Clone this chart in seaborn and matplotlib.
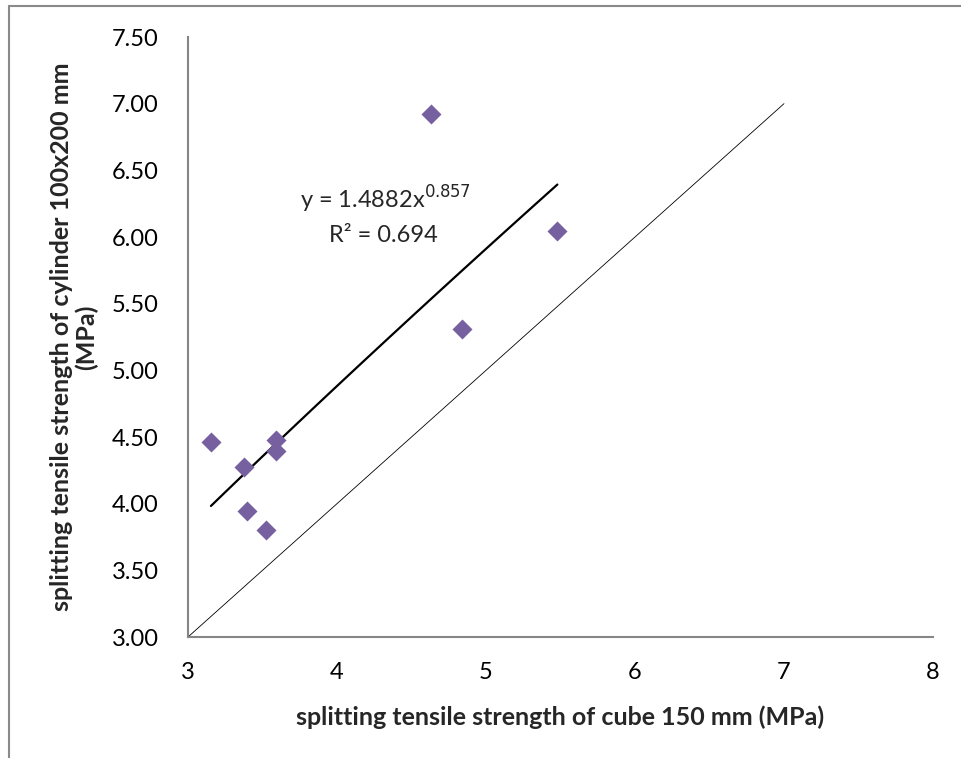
import numpy as np
import pandas as pd
import matplotlib
matplotlib.use("Agg")
import matplotlib.pyplot as plt
from matplotlib.lines import Line2D
from matplotlib.transforms import IdentityTransform
import seaborn as sns

# Measured splitting tensile strengths (MPa)
cube_150 = [3.154, 3.591, 3.591, 3.376, 3.396, 3.523, 4.629, 5.479, 4.839]
cylinder_100x200 = [4.465, 4.478, 4.397, 4.277, 3.945, 3.803, 6.920, 6.047, 5.308]

# Power-law fit y = a * x^b
fit_a = 1.4882
fit_b = 0.857
fit_r2 = 0.694

# Line of equality
equality_x = [3, 7]
equality_y = [3, 7]

x_ticks = [3, 4, 5, 6, 7, 8]
y_ticks = [3.00, 3.50, 4.00, 4.50, 5.00, 5.50, 6.00, 6.50, 7.00, 7.50]

sns.set_theme(style="white")
plt.rcParams["font.family"] = ["Lato", "DejaVu Sans"]

W, H = 962, 758
fig = plt.figure(figsize=(W / 100, H / 100), dpi=100)
ax = fig.add_axes([188 / W, 1 - 637 / H, (933 - 188) / W, (637 - 37) / H])

df = pd.DataFrame({"cube": cube_150, "cyl": cylinder_100x200})

# equality line
sns.lineplot(x=equality_x, y=equality_y, ax=ax, color="black", linewidth=0.6)

# fitted power curve over the data range
xf = np.linspace(min(cube_150), max(cube_150), 100)
yf = fit_a * xf ** fit_b
sns.lineplot(x=xf, y=yf, ax=ax, color="black", linewidth=1.6)

sns.scatterplot(data=df, x="cube", y="cyl", ax=ax, marker="D", s=104,
                color="#7660A0", linewidth=0, zorder=5)

ax.set_xlim(3, 8)
ax.set_ylim(3.0, 7.5)
ax.set_xticks(x_ticks)
ax.set_xticklabels([str(t) for t in x_ticks])
ax.set_yticks(y_ticks)
ax.set_yticklabels([f"{t:.2f}" for t in y_ticks])
ax.tick_params(axis="both", labelsize=17, colors="black", length=0)
ax.tick_params(axis="x", pad=18)
ax.tick_params(axis="y", pad=21)

for side in ["top", "right"]:
    ax.spines[side].set_visible(False)
for side in ["left", "bottom"]:
    ax.spines[side].set_color("#868686")
    ax.spines[side].set_linewidth(1.5)

ax.set_xlabel("splitting tensile strength of cube 150 mm (MPa)",
              fontsize=18, fontweight="bold", labelpad=16)
ax.set_ylabel("splitting tensile strength of cylinder 100x200 mm\n(MPa)",
              fontsize=18, fontweight="bold", labelpad=10, linespacing=1.05)

# fit equation and coefficient of determination (pixel positions)
ax.text(385, H - 209, f"y = {fit_a}x$^{{{fit_b}}}$", fontsize=17,
        ha="center", va="baseline", transform=IdentityTransform())
ax.text(383, H - 242, f"R² = {fit_r2}", fontsize=17, ha="center",
        va="baseline", transform=IdentityTransform())

# outer chart frame
fig.add_artist(Line2D([9 / W, 9 / W], [0, 1 - 6 / H], color="#8a8a8a",
                      linewidth=1.5, transform=fig.transFigure))
fig.add_artist(Line2D([9 / W, 1], [1 - 6 / H, 1 - 6 / H], color="#8a8a8a",
                      linewidth=1.5, transform=fig.transFigure))

fig.savefig("out.png", dpi=100)
